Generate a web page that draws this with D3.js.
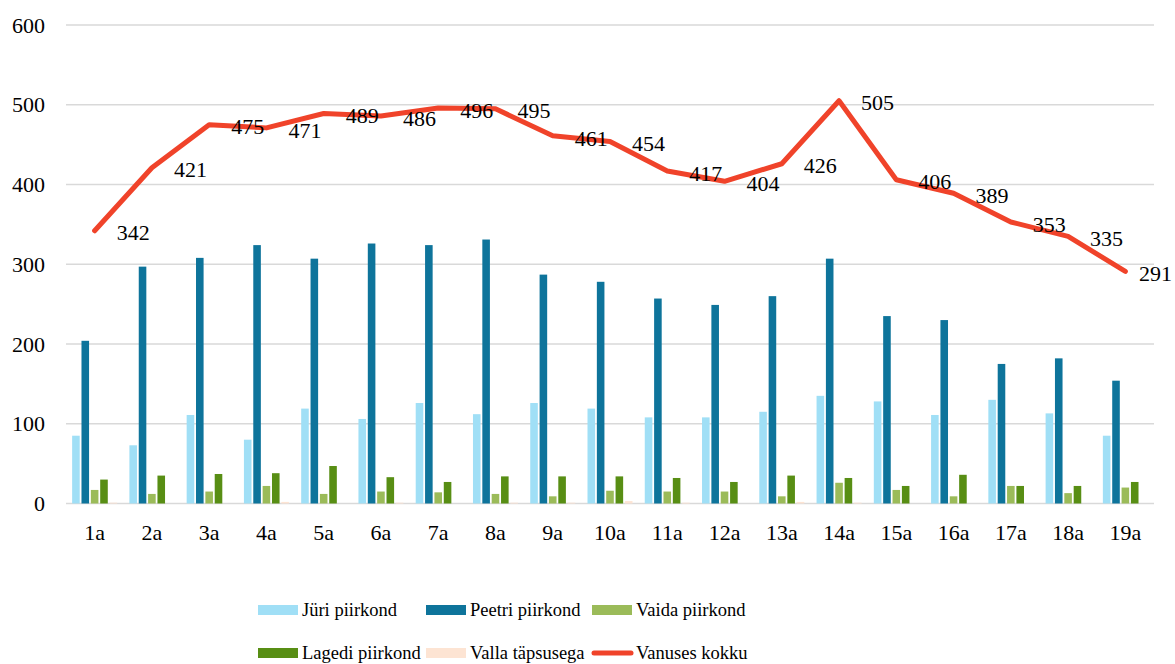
<!DOCTYPE html>
<html>
<head>
<meta charset="utf-8">
<script src="https://cdn.jsdelivr.net/npm/d3@7/dist/d3.min.js"></script>
<style>
  html, body { margin: 0; padding: 0; background: #fff; }
  svg text { font-family: "Liberation Serif", "Times New Roman", Times, "DejaVu Serif", serif; }
</style>
</head>
<body>
<div id="chart"></div>
<script>
var categories = ["1a","2a","3a","4a","5a","6a","7a","8a","9a","10a","11a","12a","13a","14a","15a","16a","17a","18a","19a"];
var juri   = [85, 73, 111, 80, 119, 106, 126, 112, 126, 119, 108, 108, 115, 135, 128, 111, 130, 113, 85];
var peetri = [204, 297, 308, 324, 307, 326, 324, 331, 287, 278, 257, 249, 260, 307, 235, 230, 175, 182, 154];
var vaida  = [17, 12, 15, 22, 12, 15, 14, 12, 9, 16, 15, 15, 9, 26, 17, 9, 22, 13, 20];
var lagedi = [30, 35, 37, 38, 47, 33, 27, 34, 34, 34, 32, 27, 35, 32, 22, 36, 22, 22, 27];
var valla  = [1, 0, 0, 2, 0, 1, 0, 1, 1, 3, 1, 0, 2, 1, 0, 0, 0, 0, 0];
var kokku  = [342, 421, 475, 471, 489, 486, 496, 495, 461, 454, 417, 404, 426, 505, 406, 389, 353, 335, 291];
var yTicks = [0, 100, 200, 300, 400, 500, 600];

var barSeries = [
  { name: "Jüri piirkond", values: juri, color: "#a0dff6" },
  { name: "Peetri piirkond", values: peetri, color: "#0e749b" },
  { name: "Vaida piirkond", values: vaida, color: "#9bbb59" },
  { name: "Lagedi piirkond", values: lagedi, color: "#588e14" },
  { name: "Valla täpsusega", values: valla, color: "#fde4d3" }
];
var lineColor = "#f0432a";

var width = 1175, height = 664;

var svg = d3.select("#chart").append("svg")
  .attr("width", width)
  .attr("height", height);

var x = d3.scaleBand()
  .domain(categories)
  .range([66, 1154]);

var y = d3.scaleLinear()
  .domain([0, 600])
  .range([503.5, 25]);

var xSub = d3.scaleBand()
  .domain(barSeries.map(function(s) { return s.name; }))
  .range([-22.5, 22.5])
  .paddingInner(0.19);

// gridlines
svg.append("g")
  .selectAll("line")
  .data(yTicks)
  .enter()
  .append("line")
    .attr("x1", 66)
    .attr("x2", 1154)
    .attr("y1", function(d) { return y(d); })
    .attr("y2", function(d) { return y(d); })
    .attr("stroke", "#d9d9d9")
    .attr("stroke-width", 1.5);

// y axis labels
svg.append("g")
  .selectAll("text")
  .data(yTicks)
  .enter()
  .append("text")
    .attr("x", 45)
    .attr("y", function(d) { return y(d); })
    .attr("dy", "0.35em")
    .attr("text-anchor", "end")
    .attr("font-size", 22)
    .text(function(d) { return d; });

// x axis labels
svg.append("g")
  .selectAll("text")
  .data(categories)
  .enter()
  .append("text")
    .attr("x", function(d) { return x(d) + x.bandwidth() / 2; })
    .attr("y", 540)
    .attr("text-anchor", "middle")
    .attr("font-size", 22)
    .text(function(d) { return d; });

// bars
barSeries.forEach(function(s) {
  svg.append("g")
    .selectAll("rect")
    .data(s.values)
    .enter()
    .append("rect")
      .attr("x", function(d, i) { return x(categories[i]) + x.bandwidth() / 2 + xSub(s.name); })
      .attr("width", xSub.bandwidth())
      .attr("y", function(d) { return y(d); })
      .attr("height", function(d) { return y(0) - y(d); })
      .attr("fill", s.color);
});

// total line
var line = d3.line()
  .x(function(d, i) { return x(categories[i]) + x.bandwidth() / 2; })
  .y(function(d) { return y(d); });

svg.append("path")
  .datum(kokku)
  .attr("d", line)
  .attr("fill", "none")
  .attr("stroke", lineColor)
  .attr("stroke-width", 5)
  .attr("stroke-linecap", "round")
  .attr("stroke-linejoin", "round");

svg.append("g")
  .selectAll("text")
  .data(kokku)
  .enter()
  .append("text")
    .attr("y", function(d) { return y(d) + 2; })
    .attr("dy", "0.35em")
    .attr("font-size", 22)
    .text(function(d) { return d; })
    .attr("x", function(d, i) {
      var px = x(categories[i]) + x.bandwidth() / 2 + 22;
      var w = this.getComputedTextLength();
      return Math.min(px, 1172 - w);
    });

// legend
var legendItems = barSeries.map(function(s) { return { name: s.name, color: s.color, type: "rect" }; });
legendItems.push({ name: "Vanuses kokku", color: lineColor, type: "line" });
var legendX = [258, 426, 592];
var legendY = [610, 653];

var legend = svg.append("g")
  .selectAll("g")
  .data(legendItems)
  .enter()
  .append("g")
    .attr("transform", function(d, i) {
      return "translate(" + legendX[i % 3] + "," + legendY[Math.floor(i / 3)] + ")";
    });

legend.each(function(d) {
  var g = d3.select(this);
  if (d.type === "rect") {
    g.append("rect")
      .attr("x", 0).attr("y", -5)
      .attr("width", 40).attr("height", 10)
      .attr("fill", d.color);
  } else {
    g.append("line")
      .attr("x1", 2).attr("x2", 39)
      .attr("y1", 0).attr("y2", 0)
      .attr("stroke", d.color)
      .attr("stroke-width", 5)
      .attr("stroke-linecap", "round");
  }
  g.append("text")
    .attr("x", 44)
    .attr("dy", "0.35em")
    .attr("font-size", 18.5)
    .text(d.name);
});
</script>
</body>
</html>
